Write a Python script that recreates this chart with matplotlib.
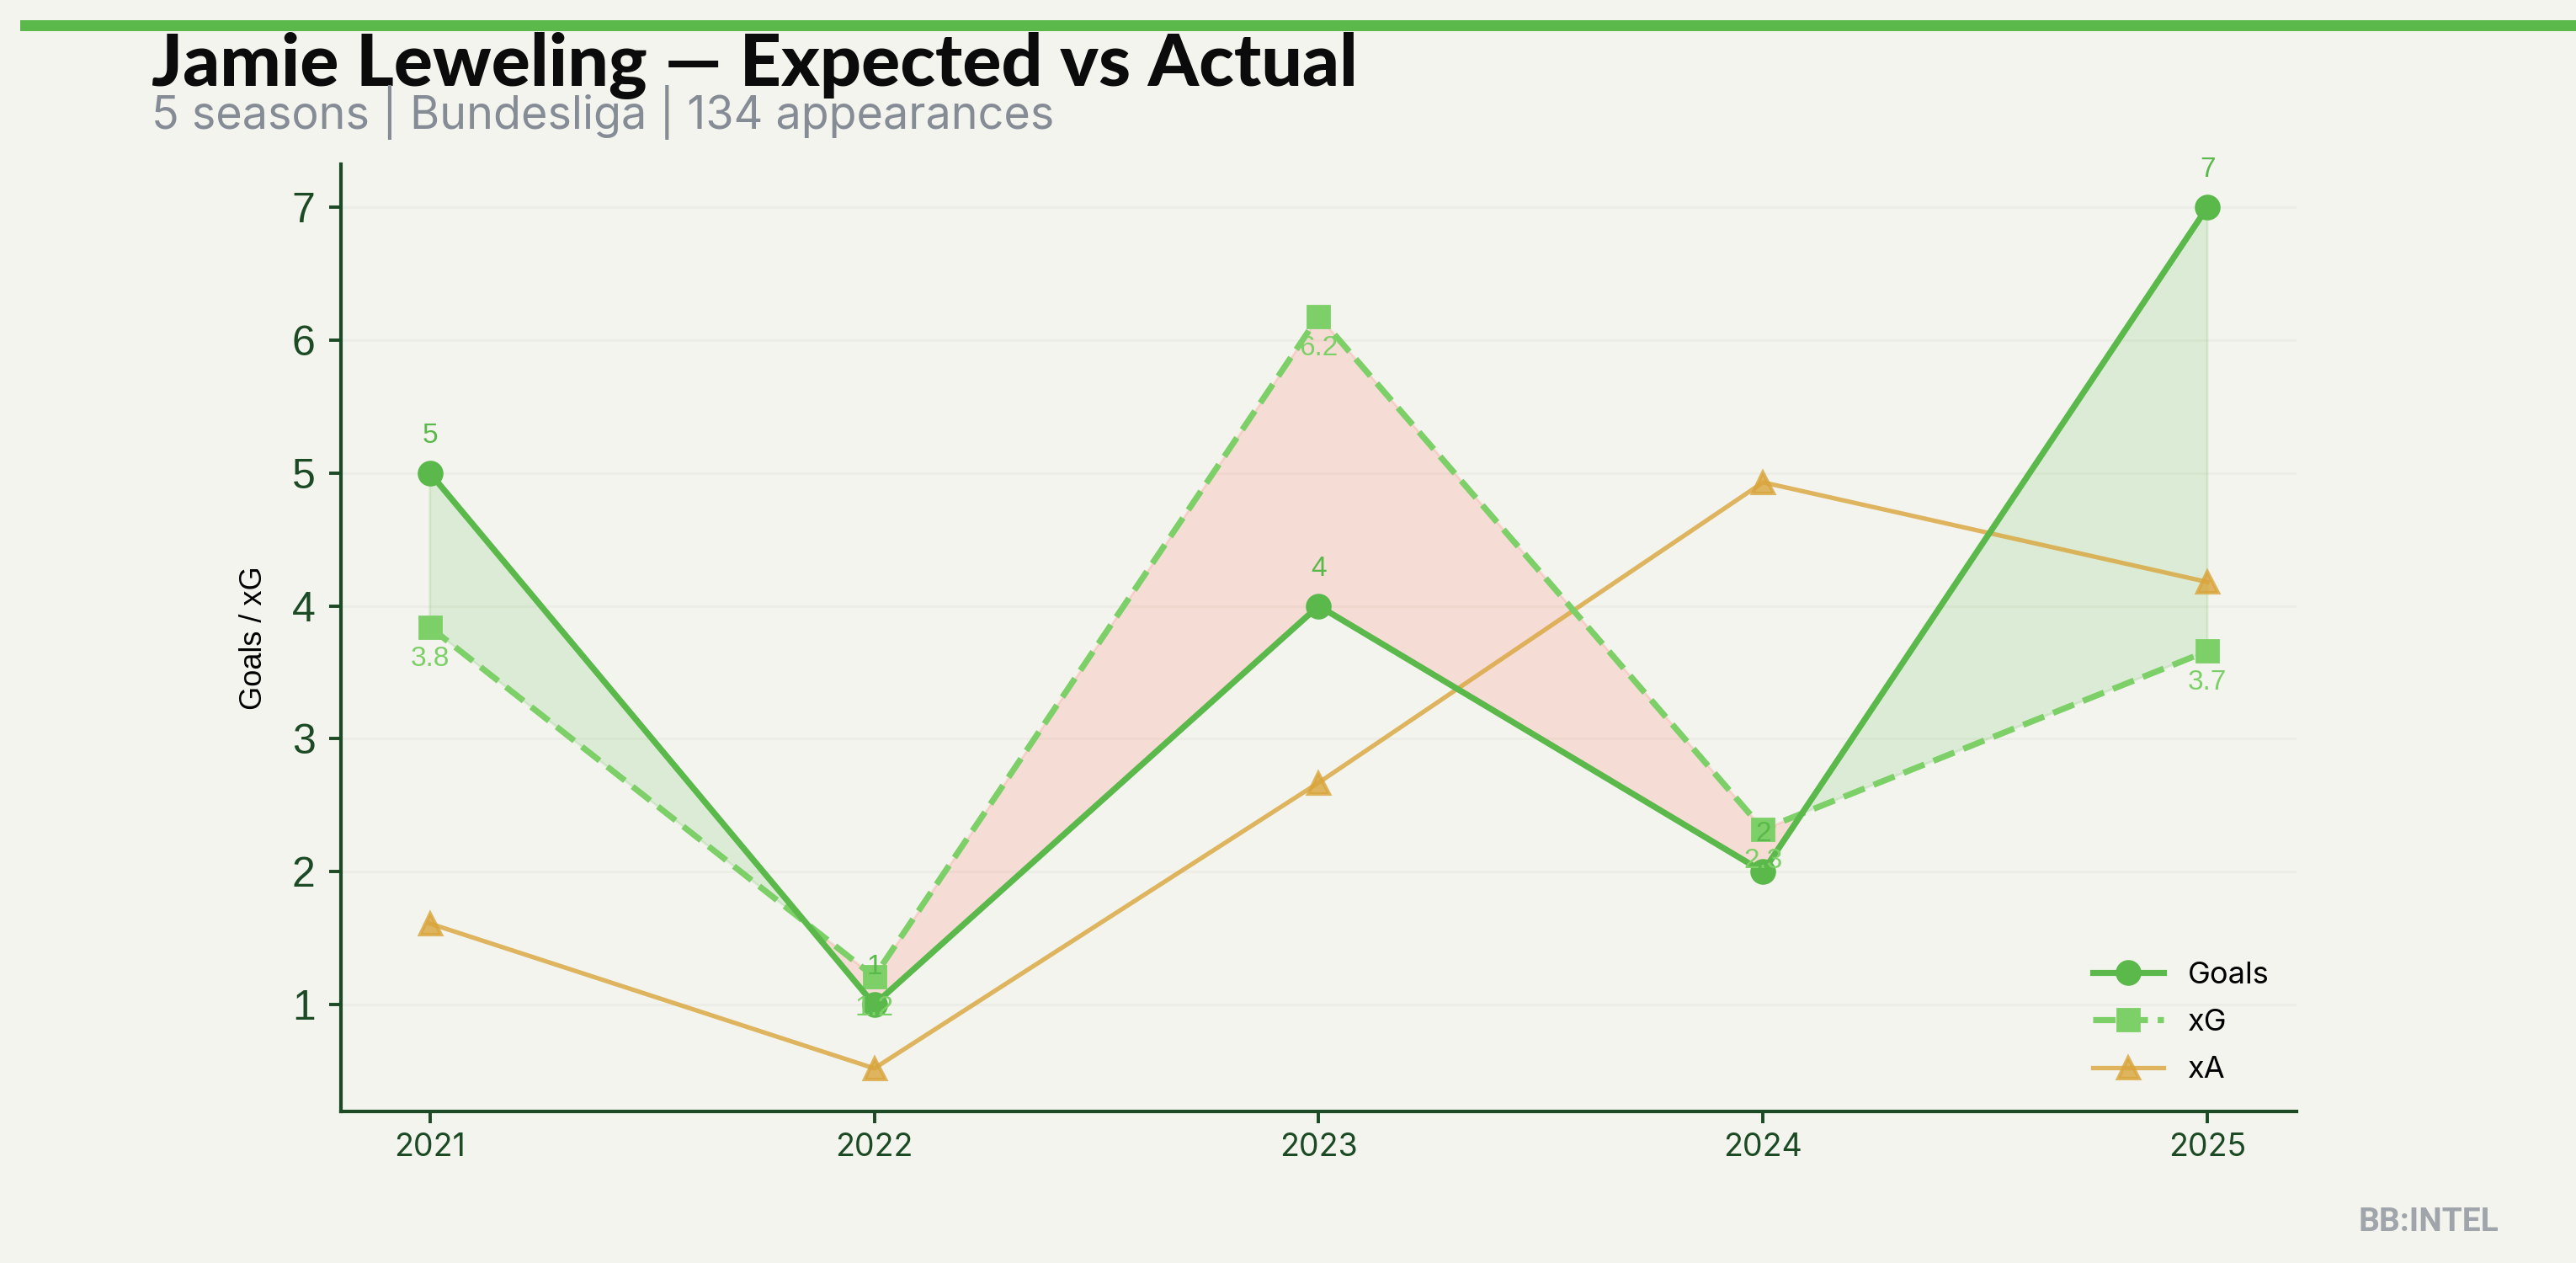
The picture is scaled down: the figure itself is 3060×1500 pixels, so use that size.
import matplotlib.pyplot as plt
from matplotlib.patches import Rectangle
import numpy as np

# data
seasons = [2021, 2022, 2023, 2024, 2025]
goals = [5, 1, 4, 2, 7]
xg = [3.84, 1.21, 6.18, 2.32, 3.66]
xa = [1.61, 0.52, 2.67, 4.93, 4.18]

bg = '#f3f4ee'
green = '#5ab94a'
light_green = '#7dd068'
gold = '#d9a53b'
dark = '#1b4a24'

fig = plt.figure(figsize=(15.3, 7.5), dpi=200, facecolor=bg)
ax = fig.add_axes([0.1324, 0.12, 0.759, 0.75], facecolor=bg)

# top accent bar
fig.add_artist(Rectangle((0.0078, 0.9753), 1.0, 0.0087, transform=fig.transFigure,
                         color=green, lw=0))

x = np.array(seasons)
g = np.array(goals, dtype=float)
e = np.array(xg)

ax.fill_between(x, g, e, where=g >= e, interpolate=True, color=green, alpha=0.15)
ax.fill_between(x, g, e, where=g < e, interpolate=True, color='#ff6b5b', alpha=0.17)

ax.plot(x, g, color=green, lw=2.6, marker='o', ms=10, label='Goals', zorder=4)
ax.plot(x, e, color=light_green, lw=2.6, ls='--', marker='s', ms=9.5, label='xG', zorder=3)
ax.plot(x, xa, color=gold, lw=1.9, marker='^', ms=9, mew=1.5, alpha=0.8, label='xA', zorder=2)

for xi, v in zip(x, goals):
    ax.annotate(str(v), (xi, v), xytext=(0, 16), textcoords='offset points',
                ha='center', va='center', fontsize=12, color=green,
                family='Liberation Sans', zorder=6)
for xi, v in zip(x, xg):
    ax.annotate(f'{v:.1f}', (xi, v), xytext=(0, -13.5), textcoords='offset points',
                ha='center', va='center', fontsize=12, color=light_green,
                family='Liberation Sans', zorder=6)

ax.set_xticks(seasons)
ax.set_xticklabels([str(s) for s in seasons], family='Inter', fontsize=13.5, color=dark)
ax.set_yticks(range(1, 8))
ax.set_yticklabels([str(i) for i in range(1, 8)], family='Liberation Sans', fontsize=18, color=dark)
ax.tick_params(axis='both', color=dark, length=5, width=1.4)
ax.tick_params(axis='x', pad=4)
ax.tick_params(axis='y', pad=6)

for s in ['top', 'right']:
    ax.spines[s].set_visible(False)
for s in ['left', 'bottom']:
    ax.spines[s].set_color(dark)
    ax.spines[s].set_linewidth(1.5)

ax.grid(axis='y', color='#ecede6', lw=1.0)
ax.set_axisbelow(True)

ax.set_ylabel('Goals / xG', family='Liberation Sans', fontsize=13, color='black', labelpad=10)

leg = ax.legend(loc='lower right', frameon=False, handlelength=2.3, labelspacing=0.65,
                prop={'family': 'Inter', 'size': 13})

fig.text(0.0588, 0.932, 'Jamie Leweling \u2014 Expected vs Actual', family='Lato',
         fontweight='black', fontsize=31, color='#0b0b0b', va='baseline')
fig.text(0.0588, 0.898, '5 seasons | Bundesliga | 134 appearances', family='Inter',
         fontsize=19.4, color='#868c96', va='baseline')
fig.text(0.970, 0.0253, 'BB:INTEL', family='Roboto', fontweight='bold', fontsize=14,
         color='#a0a4ab', ha='right', va='baseline')

fig.savefig('out.png', dpi=200, facecolor=bg)
